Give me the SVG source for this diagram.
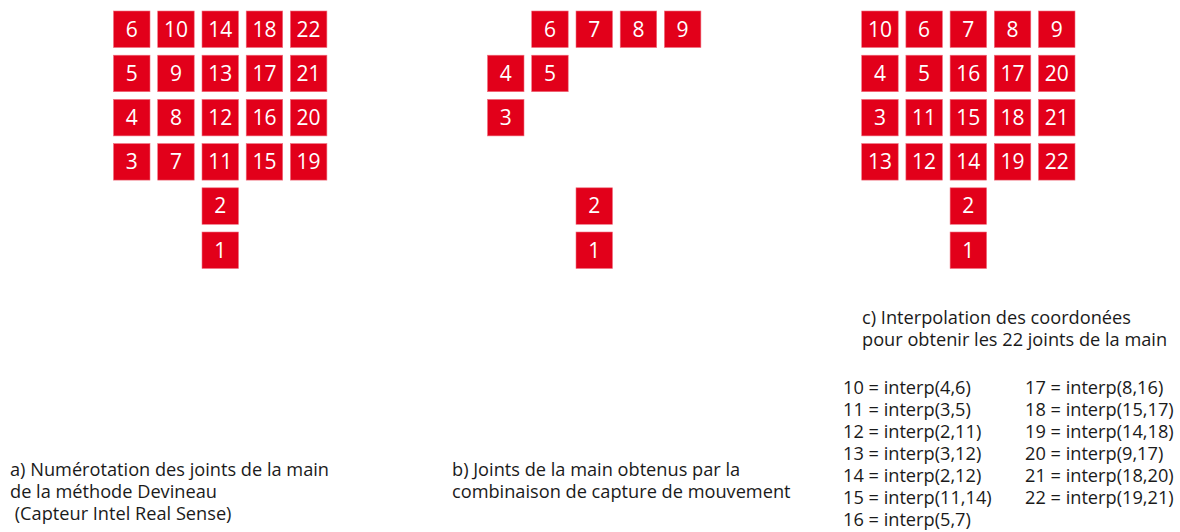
<svg xmlns="http://www.w3.org/2000/svg" width="1180" height="532" viewBox="0 0 1180 532">
<style>
.n rect{fill:#e2001a;stroke:#f07080;stroke-width:0.6}
.n text{fill:#fff;font-family:"Open Sans","Noto Sans",sans-serif;font-size:21px;text-anchor:middle}
.t{fill:#1a1a1a;font-family:"Open Sans","Noto Sans",sans-serif;font-size:18.2px}
</style>
<g id="panel-a">
<g id="a6" class="n"><rect x="113.5" y="11" width="36.5" height="36.5"/><text x="131.7" y="36.5">6</text></g>
<g id="a10" class="n"><rect x="157.7" y="11" width="36.5" height="36.5"/><text x="175.9" y="36.5">10</text></g>
<g id="a14" class="n"><rect x="202" y="11" width="36.5" height="36.5"/><text x="220.2" y="36.5">14</text></g>
<g id="a18" class="n"><rect x="246.2" y="11" width="36.5" height="36.5"/><text x="264.4" y="36.5">18</text></g>
<g id="a22" class="n"><rect x="290.4" y="11" width="36.5" height="36.5"/><text x="308.6" y="36.5">22</text></g>
<g id="a5" class="n"><rect x="113.5" y="55.2" width="36.5" height="36.5"/><text x="131.7" y="80.7">5</text></g>
<g id="a9" class="n"><rect x="157.7" y="55.2" width="36.5" height="36.5"/><text x="175.9" y="80.7">9</text></g>
<g id="a13" class="n"><rect x="202" y="55.2" width="36.5" height="36.5"/><text x="220.2" y="80.7">13</text></g>
<g id="a17" class="n"><rect x="246.2" y="55.2" width="36.5" height="36.5"/><text x="264.4" y="80.7">17</text></g>
<g id="a21" class="n"><rect x="290.4" y="55.2" width="36.5" height="36.5"/><text x="308.6" y="80.7">21</text></g>
<g id="a4" class="n"><rect x="113.5" y="99.4" width="36.5" height="36.5"/><text x="131.7" y="124.9">4</text></g>
<g id="a8" class="n"><rect x="157.7" y="99.4" width="36.5" height="36.5"/><text x="175.9" y="124.9">8</text></g>
<g id="a12" class="n"><rect x="202" y="99.4" width="36.5" height="36.5"/><text x="220.2" y="124.9">12</text></g>
<g id="a16" class="n"><rect x="246.2" y="99.4" width="36.5" height="36.5"/><text x="264.4" y="124.9">16</text></g>
<g id="a20" class="n"><rect x="290.4" y="99.4" width="36.5" height="36.5"/><text x="308.6" y="124.9">20</text></g>
<g id="a3" class="n"><rect x="113.5" y="143.6" width="36.5" height="36.5"/><text x="131.7" y="169.1">3</text></g>
<g id="a7" class="n"><rect x="157.7" y="143.6" width="36.5" height="36.5"/><text x="175.9" y="169.1">7</text></g>
<g id="a11" class="n"><rect x="202" y="143.6" width="36.5" height="36.5"/><text x="220.2" y="169.1">11</text></g>
<g id="a15" class="n"><rect x="246.2" y="143.6" width="36.5" height="36.5"/><text x="264.4" y="169.1">15</text></g>
<g id="a19" class="n"><rect x="290.4" y="143.6" width="36.5" height="36.5"/><text x="308.6" y="169.1">19</text></g>
<g id="a2" class="n"><rect x="202" y="187.8" width="36.5" height="36.5"/><text x="220.2" y="213.3">2</text></g>
<g id="a1" class="n"><rect x="202" y="232" width="36.5" height="36.5"/><text x="220.2" y="257.5">1</text></g>
</g>
<g id="panel-b">
<g id="b6" class="n"><rect x="531.7" y="11" width="36.5" height="36.5"/><text x="549.9" y="36.5">6</text></g>
<g id="b7" class="n"><rect x="576" y="11" width="36.5" height="36.5"/><text x="594.2" y="36.5">7</text></g>
<g id="b8" class="n"><rect x="620.2" y="11" width="36.5" height="36.5"/><text x="638.4" y="36.5">8</text></g>
<g id="b9" class="n"><rect x="664.4" y="11" width="36.5" height="36.5"/><text x="682.6" y="36.5">9</text></g>
<g id="b4" class="n"><rect x="487.5" y="55.2" width="36.5" height="36.5"/><text x="505.7" y="80.7">4</text></g>
<g id="b5" class="n"><rect x="531.7" y="55.2" width="36.5" height="36.5"/><text x="549.9" y="80.7">5</text></g>
<g id="b3" class="n"><rect x="487.5" y="99.4" width="36.5" height="36.5"/><text x="505.7" y="124.9">3</text></g>
<g id="b2" class="n"><rect x="576" y="187.8" width="36.5" height="36.5"/><text x="594.2" y="213.3">2</text></g>
<g id="b1" class="n"><rect x="576" y="232" width="36.5" height="36.5"/><text x="594.2" y="257.5">1</text></g>
</g>
<g id="panel-c">
<g id="c10" class="n"><rect x="861.7" y="11" width="36.5" height="36.5"/><text x="879.9" y="36.5">10</text></g>
<g id="c6" class="n"><rect x="905.9" y="11" width="36.5" height="36.5"/><text x="924.1" y="36.5">6</text></g>
<g id="c7" class="n"><rect x="950.1" y="11" width="36.5" height="36.5"/><text x="968.3" y="36.5">7</text></g>
<g id="c8" class="n"><rect x="994.3" y="11" width="36.5" height="36.5"/><text x="1012.5" y="36.5">8</text></g>
<g id="c9" class="n"><rect x="1038.5" y="11" width="36.5" height="36.5"/><text x="1056.7" y="36.5">9</text></g>
<g id="c4" class="n"><rect x="861.7" y="55.2" width="36.5" height="36.5"/><text x="879.9" y="80.7">4</text></g>
<g id="c5" class="n"><rect x="905.9" y="55.2" width="36.5" height="36.5"/><text x="924.1" y="80.7">5</text></g>
<g id="c16" class="n"><rect x="950.1" y="55.2" width="36.5" height="36.5"/><text x="968.3" y="80.7">16</text></g>
<g id="c17" class="n"><rect x="994.3" y="55.2" width="36.5" height="36.5"/><text x="1012.5" y="80.7">17</text></g>
<g id="c20" class="n"><rect x="1038.5" y="55.2" width="36.5" height="36.5"/><text x="1056.7" y="80.7">20</text></g>
<g id="c3" class="n"><rect x="861.7" y="99.4" width="36.5" height="36.5"/><text x="879.9" y="124.9">3</text></g>
<g id="c11" class="n"><rect x="905.9" y="99.4" width="36.5" height="36.5"/><text x="924.1" y="124.9">11</text></g>
<g id="c15" class="n"><rect x="950.1" y="99.4" width="36.5" height="36.5"/><text x="968.3" y="124.9">15</text></g>
<g id="c18" class="n"><rect x="994.3" y="99.4" width="36.5" height="36.5"/><text x="1012.5" y="124.9">18</text></g>
<g id="c21" class="n"><rect x="1038.5" y="99.4" width="36.5" height="36.5"/><text x="1056.7" y="124.9">21</text></g>
<g id="c13" class="n"><rect x="861.7" y="143.6" width="36.5" height="36.5"/><text x="879.9" y="169.1">13</text></g>
<g id="c12" class="n"><rect x="905.9" y="143.6" width="36.5" height="36.5"/><text x="924.1" y="169.1">12</text></g>
<g id="c14" class="n"><rect x="950.1" y="143.6" width="36.5" height="36.5"/><text x="968.3" y="169.1">14</text></g>
<g id="c19" class="n"><rect x="994.3" y="143.6" width="36.5" height="36.5"/><text x="1012.5" y="169.1">19</text></g>
<g id="c22" class="n"><rect x="1038.5" y="143.6" width="36.5" height="36.5"/><text x="1056.7" y="169.1">22</text></g>
<g id="c2" class="n"><rect x="950.1" y="187.8" width="36.5" height="36.5"/><text x="968.3" y="213.3">2</text></g>
<g id="c1" class="n"><rect x="950.1" y="232" width="36.5" height="36.5"/><text x="968.3" y="257.5">1</text></g>
</g>
<g id="connectors"/>
<g id="captions" class="t">
<text x="10" y="475.5">a) Numérotation des joints de la main</text>
<text x="10" y="497.5">de la méthode Devineau</text>
<text x="10" y="519.5" xml:space="preserve"> (Capteur Intel Real Sense)</text>
<text x="452" y="475.5">b) Joints de la main obtenus par la</text>
<text x="452" y="497.5">combinaison de capture de mouvement</text>
<text x="862" y="323.5">c) Interpolation des coordonées</text>
<text x="862" y="346">pour obtenir les 22 joints de la main</text>
<text x="843" y="394">10 = interp(4,6)</text>
<text x="843" y="416">11 = interp(3,5)</text>
<text x="843" y="438">12 = interp(2,11)</text>
<text x="843" y="460">13 = interp(3,12)</text>
<text x="843" y="482">14 = interp(2,12)</text>
<text x="843" y="504">15 = interp(11,14)</text>
<text x="843" y="526">16 = interp(5,7)</text>
<text x="1025" y="394">17 = interp(8,16)</text>
<text x="1025" y="416">18 = interp(15,17)</text>
<text x="1025" y="438">19 = interp(14,18)</text>
<text x="1025" y="460">20 = interp(9,17)</text>
<text x="1025" y="482">21 = interp(18,20)</text>
<text x="1025" y="504">22 = interp(19,21)</text>
</g>
</svg>
